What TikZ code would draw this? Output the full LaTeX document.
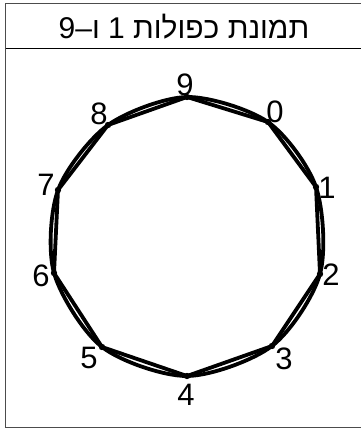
\documentclass[tikz,border=0pt]{standalone}
\usepackage{fontspec}
\setmainfont{Liberation Sans}
\newfontfamily\hebfont[Script=Hebrew]{Liberation Sans}
\TeXXeTstate=1

\begin{document}
\begin{tikzpicture}[
  x=1pt, y=-1pt,
  frameline/.style={draw=black!70, line width=1.4pt},
  ring/.style={line width=3.8pt},
  chord/.style={line width=3.8pt, line cap=round},
  digit/.style={font=\fontsize{31}{31}\selectfont, inner sep=0pt}
]
\useasboundingbox (0,0) rectangle (361,428);

% Frame and title
\draw[frameline] (370,3.8) -- (5.5,3.8) -- (5.5,427.2) -- (370,427.2);
\draw[line width=1.4pt] (5.5,48.5) -- (370,48.5);
\node[font=\hebfont\fontsize{30}{30}\selectfont, anchor=base, inner sep=0pt] (title) at (184,39) {\beginR תמונת כפולות 1 ו–9\endR};

% Points on the ring
\coordinate (p0) at (268,122);
\coordinate (p1) at (316,187);
\coordinate (p2) at (320,274);
\coordinate (p3) at (272,346);
\coordinate (p4) at (187,376);
\coordinate (p5) at (102,347);
\coordinate (p6) at (54,273);
\coordinate (p7) at (58,190);
\coordinate (p8) at (108,125);
\coordinate (p9) at (187,97);

% Labels
\node[digit] (l0) at (275,112) {0};
\node[digit] (l1) at (327,188) {1};
\node[digit] (l2) at (331,275) {2};
\node[digit] (l3) at (284,359) {3};
\node[digit] (l4) at (186,395) {4};
\node[digit] (l5) at (89,358) {5};
\node[digit] (l6) at (41,276) {6};
\node[digit] (l7) at (46,185) {7};
\node[digit] (l8) at (99,114) {8};
\node[digit] (l9) at (185,85) {9};

% Circle through the points
\draw[ring] plot[smooth cycle, tension=0.5] coordinates {(p0) (p1) (p2) (p3) (p4) (p5) (p6) (p7) (p8) (p9)};

% Chords k -> k+1
\foreach \a/\b in {0/1,1/2,2/3,3/4,4/5,5/6,6/7,7/8,8/9,9/0}
  \draw[chord] (p\a) -- (p\b);

% Dots
\foreach \k in {0,...,9}
  \fill (p\k) circle (3.2);
\end{tikzpicture}
\end{document}
